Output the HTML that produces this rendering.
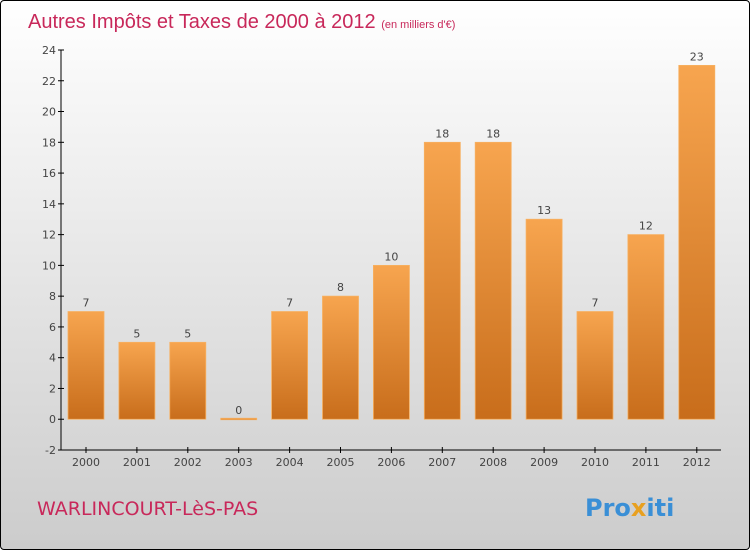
<!DOCTYPE html>
<html><head><meta charset="utf-8"><style>
body{margin:0;}
#c{position:relative;width:748px;height:548px;border:1px solid #000;border-radius:4px;background:linear-gradient(#fff,#ccc);overflow:hidden;font-family:"DejaVu Sans","Liberation Sans",sans-serif;}
</style></head><body>
<div id="c">
<svg width="748" height="548">
<defs><linearGradient id="g" x1="0" y1="0" x2="0" y2="1"><stop offset="0" stop-color="#f7a54f"/><stop offset="1" stop-color="#c86d1b"/></linearGradient></defs>
<text x="27" y="27" font-size="20" fill="#c8285a" font-family="Liberation Sans, sans-serif">Autres Impôts et Taxes de 2000 à 2012 <tspan font-size="11">(en milliers d'€)</tspan></text>
<text x="36" y="514" font-size="19" fill="#c8285a">WARLINCOURT-LèS-PAS</text>
<text x="584" y="515" font-size="24" font-weight="bold" fill="#3a8fd6">Pro<tspan fill="#e8a020">x</tspan>iti</text>
<g id="ax"></g><g id="bars"></g>
</svg></div>
<script>
const years=["2000","2001","2002","2003","2004","2005","2006","2007","2008","2009","2010","2011","2012"];
const values=[7,5,5,0,7,8,10,18,18,13,7,12,23];
const ticks=[-2,0,2,4,6,8,10,12,14,16,18,20,22,24];
const NS="http://www.w3.org/2000/svg";
const y0=449,y1=49,vmin=-2,vmax=24;
const ys=v=>y0-(v-vmin)/(vmax-vmin)*(y0-y1);
const xs=i=>85+i*50.9;
function mk(t,a,p,txt){const e=document.createElementNS(NS,t);for(const k in a)e.setAttribute(k,a[k]);if(txt!==undefined)e.textContent=txt;p.appendChild(e);return e;}
const ax=document.getElementById('ax'),bg=document.getElementById('bars');
let l=mk('line',{x1:60,y1:y1,x2:60,y2:y0,stroke:'#000'},ax);

l=mk('line',{x1:60,y1:y0,x2:720,y2:y0,stroke:'#000'},ax);

ticks.forEach(t=>{const y=ys(t);
mk('line',{x1:57,y1:y,x2:63,y2:y,stroke:'#000'},ax);
const e=mk('text',{x:55,y:y+4,'font-size':11,fill:'#444','text-anchor':'end'},ax,t);
});
years.forEach((yr,i)=>{const x=xs(i),v=values[i];
mk('line',{x1:x,y1:y0-3,x2:x,y2:y0+3,stroke:'#000'},ax);
const e=mk('text',{x:x,y:y0+16,'font-size':11,fill:'#444','text-anchor':'middle'},ax,yr);

const top=ys(Math.max(v,0)),h=Math.max(ys(0)-top,1.5);
const r=mk('rect',{x:x-18,y:v>0?top:ys(0)-1,width:36,height:h,fill:'url(#g)',stroke:'#f7b060','stroke-width':0.8},bg);

const lb=mk('text',{x:x,y:top-5,'font-size':11,fill:'#444','text-anchor':'middle'},bg,v);
});
</script>
</body></html>
